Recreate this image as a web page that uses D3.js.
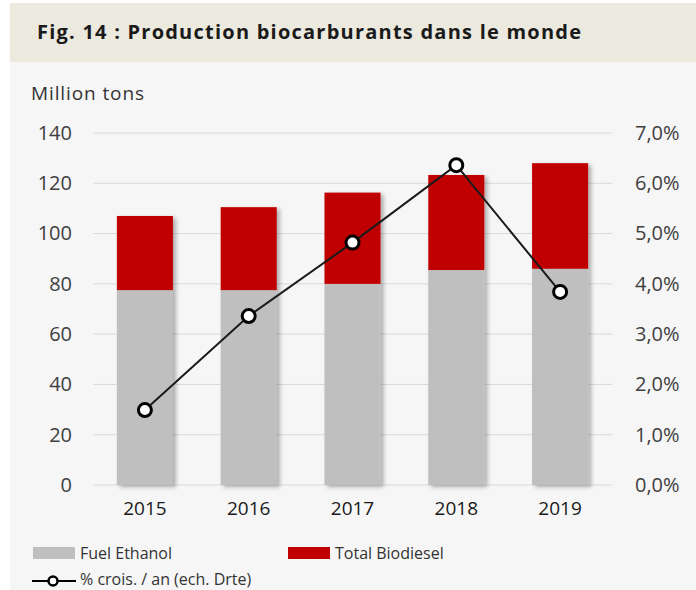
<!DOCTYPE html>
<html>
<head>
<meta charset="utf-8">
<script src="https://cdn.jsdelivr.net/npm/d3@7"></script>
<style>
  body { margin: 0; background: #fff; }
  svg { display: block; font-family: 'Open Sans', sans-serif; }
</style>
</head>
<body>
<svg id="chart" width="696" height="590"></svg>
<script>
const years = ['2015', '2016', '2017', '2018', '2019'];
const ethanol = [77.5, 77.5, 80, 85.5, 86];
const biodiesel = [29.5, 33, 36.3, 37.8, 42];
const growth = [1.49, 3.36, 4.82, 6.36, 3.84];
const leftTicks = [0, 20, 40, 60, 80, 100, 120, 140];
const rightTicks = [0, 1, 2, 3, 4, 5, 6, 7];

const svg = d3.select('#chart');
const margin = { top: 133, left: 93, right: 84, bottom: 105 };
const width = 696 - margin.left - margin.right;
const height = 590 - margin.top - margin.bottom;

// backgrounds
svg.append('rect').attr('x', 10).attr('y', 3).attr('width', 686).attr('height', 59).attr('fill', '#ece9df');
svg.append('rect').attr('x', 10).attr('y', 62).attr('width', 686).attr('height', 528).attr('fill', '#f6f6f6');

svg.append('text')
  .attr('x', 37).attr('y', 39)
  .attr('font-size', 20).attr('font-weight', 'bold')
  .attr('fill', '#1a1a1a')
  .attr('textLength', 544).attr('lengthAdjust', 'spacing')
  .text('Fig. 14 : Production biocarburants dans le monde');

svg.append('text')
  .attr('x', 31).attr('y', 100)
  .attr('font-size', 19).attr('fill', '#333')
  .attr('textLength', 113).attr('lengthAdjust', 'spacing')
  .text('Million tons');

const defs = svg.append('defs');
const filter = defs.append('filter').attr('id', 'shadow').attr('x', -0.2).attr('y', -0.2).attr('width', 1.5).attr('height', 1.4);
filter.append('feDropShadow').attr('dx', 3).attr('dy', 2).attr('stdDeviation', 2.2).attr('flood-color', '#000').attr('flood-opacity', 0.3);

const g = svg.append('g').attr('transform', `translate(${margin.left},${margin.top})`);

const x = d3.scaleBand().domain(years).range([0, width]).paddingInner(0.46).paddingOuter(0.23);
const y = d3.scaleLinear().domain([0, 140]).range([height, 0]);
const y2 = d3.scaleLinear().domain([0, 7]).range([height, 0]);

// gridlines
g.append('g')
  .selectAll('line')
  .data(leftTicks)
  .join('line')
  .attr('x1', 0).attr('x2', width)
  .attr('y1', d => y(d)).attr('y2', d => y(d))
  .attr('stroke', '#d9d9d9').attr('stroke-width', 1);

const yAxis = g.append('g')
  .attr('transform', 'translate(-21,0)')
  .call(d3.axisLeft(y).tickValues(leftTicks).tickSize(0).tickPadding(0));
yAxis.select('.domain').remove();
yAxis.selectAll('text').attr('font-size', 20).attr('fill', '#404040').attr('font-family', 'Open Sans');

const fmt = d => d.toFixed(1).replace('.', ',') + '%';
const yAxis2 = g.append('g')
  .attr('transform', `translate(${width + 23},0)`)
  .call(d3.axisRight(y2).tickValues(rightTicks).tickSize(0).tickPadding(0).tickFormat(fmt));
yAxis2.select('.domain').remove();
yAxis2.selectAll('text').attr('font-size', 20).attr('fill', '#404040').attr('font-family', 'Open Sans');

const xAxis = g.append('g')
  .attr('transform', `translate(0,${height + 14})`)
  .call(d3.axisBottom(x).tickSize(0).tickPadding(0));
xAxis.select('.domain').remove();
xAxis.selectAll('text').attr('font-size', 19).attr('fill', '#1a1a1a').attr('dy', '0.85em').attr('font-family', 'Open Sans');

// stacked bars
const bars = g.append('g').attr('filter', 'url(#shadow)');
bars.selectAll('rect.eth')
  .data(years)
  .join('rect')
  .attr('class', 'eth')
  .attr('x', d => x(d))
  .attr('width', x.bandwidth())
  .attr('y', (d, i) => y(ethanol[i]))
  .attr('height', (d, i) => y(0) - y(ethanol[i]))
  .attr('fill', '#bfbfbf');
bars.selectAll('rect.bio')
  .data(years)
  .join('rect')
  .attr('class', 'bio')
  .attr('x', d => x(d))
  .attr('width', x.bandwidth())
  .attr('y', (d, i) => y(ethanol[i] + biodiesel[i]))
  .attr('height', (d, i) => y(ethanol[i]) - y(ethanol[i] + biodiesel[i]))
  .attr('fill', '#c00000');

// growth line
const line = d3.line()
  .x((d, i) => x(years[i]) + x.bandwidth() / 2)
  .y(d => y2(d));
g.append('path')
  .datum(growth)
  .attr('d', line)
  .attr('fill', 'none')
  .attr('stroke', '#1a1a1a')
  .attr('stroke-width', 2);
g.selectAll('circle.pt')
  .data(growth)
  .join('circle')
  .attr('class', 'pt')
  .attr('cx', (d, i) => x(years[i]) + x.bandwidth() / 2)
  .attr('cy', d => y2(d))
  .attr('r', 6.5)
  .attr('fill', '#fff')
  .attr('stroke', '#000')
  .attr('stroke-width', 3);

// legend
const legend = svg.append('g').attr('font-size', 16).attr('fill', '#333');
legend.append('rect').attr('x', 33).attr('y', 547).attr('width', 42).attr('height', 12).attr('fill', '#bfbfbf');
legend.append('text').attr('x', 80).attr('y', 559).attr('fill', '#333').text('Fuel Ethanol');
legend.append('rect').attr('x', 288).attr('y', 547).attr('width', 42).attr('height', 12).attr('fill', '#c00000');
legend.append('text').attr('x', 335).attr('y', 559).attr('fill', '#333').text('Total Biodiesel');
legend.append('line').attr('x1', 32).attr('x2', 76).attr('y1', 581).attr('y2', 581).attr('stroke', '#000').attr('stroke-width', 2);
legend.append('circle').attr('cx', 53).attr('cy', 581).attr('r', 4.5).attr('fill', '#fff').attr('stroke', '#000').attr('stroke-width', 2.5);
legend.append('text').attr('x', 80).attr('y', 585).attr('fill', '#333').text('% crois. / an (ech. Drte)');
</script>
</body>
</html>
